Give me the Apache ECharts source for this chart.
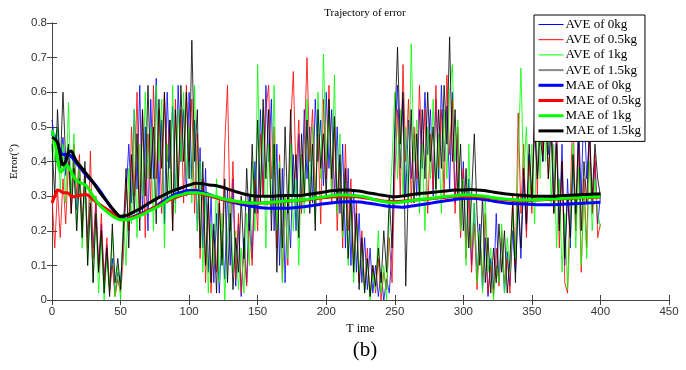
<!DOCTYPE html>
<html><head><meta charset="utf-8">
<script src="https://cdn.jsdelivr.net/npm/echarts@6/dist/echarts.min.js"></script>
<style>html,body{margin:0;padding:0;background:#fff}#c{width:686px;height:370px}</style>
</head><body><div id="c"></div>
<script>
// AVE series: sampled every 2 time units from t=0 to t=400
const aveStep = 2;
const ave0 = [
.52,.46,.50,.40,.47, .36,.44,.30,.41,.26, .38,.22,.33,.18,.30, .15,.28,.10,.22,.06,
.16,.03,.12,.02,.08, .05,.18,.30,.45,.28, .55,.32,.62,.25,.50, .20,.58,.35,.64,.30,
.52,.22,.60,.38,.56, .28,.62,.40,.55,.30, .60,.35,.52,.20,.44, .15,.38,.08,.30,.05,
.25,.02,.20,.06,.32, .10,.35,.04,.22,.01, .18,.05,.30,.12,.40, .25,.55,.30,.62,.40,
.58,.20,.45,.10,.38, .05,.30,.15,.42,.20, .48,.30,.55,.35,.50, .28,.58,.40,.52,.33,
.60,.38,.55,.30,.50, .25,.45,.15,.38,.10, .32,.08,.25,.05,.18, .03,.15,.02,.10,.01,
.08,.00,.06,.02,.15, .45,.62,.38,.58,.30, .52,.35,.48,.30,.55, .38,.60,.42,.55,.30,
.58,.35,.62,.40,.56, .32,.60,.28,.48,.20, .40,.15,.35,.10,.28, .06,.22,.03,.18,.01,
.12,.03,.25,.05,.18, .02,.14,.04,.20,.08, .28,.12,.35,.20,.42, .28,.50,.35,.58,.40,
.62,.42,.55,.30,.50, .22,.45,.10,.35,.15, .40,.20,.52,.30,.58, .35,.48,.25,.40,.22,
.30];
const ave05 = [
.30,.15,.32,.18,.35, .22,.40,.25,.45,.30, .42,.20,.38,.15,.43, .12,.30,.08,.25,.05,
.18,.02,.10,.01,.06, .02,.12,.35,.20,.50, .30,.60,.25,.55,.18, .48,.28,.62,.35,.55,
.25,.60,.40,.52,.20, .58,.32,.55,.28,.62, .40,.58,.25,.48,.12, .35,.05,.28,.02,.20,
.08,.30,.12,.45,.62, .20,.40,.06,.25,.02, .15,.04,.22,.10,.35, .20,.48,.30,.55,.62,
.35,.50,.15,.42,.06, .30,.10,.50,.66,.35, .52,.25,.45,.70,.40, .55,.30,.48,.22,.58,
.35,.62,.28,.50,.20, .40,.15,.45,.20,.35, .10,.28,.05,.20,.03, .15,.01,.10,.02,.12,
.00,.08,.03,.18,.05, .35,.55,.30,.68,.40, .58,.28,.50,.35,.62, .40,.55,.25,.48,.32,
.62,.38,.55,.30,.65, .42,.58,.25,.50,.18, .38,.12,.30,.08,.22, .03,.18,.06,.25,.02,
.10,.01,.15,.04,.20, .05,.12,.02,.30,.10, .54,.25,.45,.18,.40, .25,.55,.30,.65,.42,
.60,.35,.55,.25,.48, .15,.40,.05,.02,.30, .55,.20,.45,.08,.35, .15,.50,.25,.42,.18,
.22];
const ave1 = [
.48,.40,.50,.32,.45, .28,.57,.30,.48,.20, .40,.15,.35,.10,.30, .05,.25,.02,.18,.00,
.12,.03,.20,.01,.10, .00,.25,.10,.38,.22, .55,.18,.45,.30,.60, .35,.50,.20,.62,.40,
.58,.15,.45,.30,.62, .25,.55,.40,.60,.35, .50,.28,.62,.20,.40, .08,.30,.02,.22,.10,
.35,.05,.25,.00,.18, .30,.08,.20,.03,.15, .02,.25,.10,.40,.20, .68,.30,.55,.15,.45,
.25,.62,.20,.40,.05, .30,.12,.45,.20,.35, .10,.42,.25,.58,.30, .50,.22,.60,.35,.71,
.40,.55,.30,.65,.25, .48,.18,.35,.10,.30, .05,.22,.08,.15,.02, .12,.00,.08,.03,.20,
.02,.10,.00,.25,.40, .60,.35,.55,.30,.50, .28,.74,.40,.52,.25, .45,.20,.50,.35,.58,
.30,.48,.25,.55,.35, .60,.68,.40,.52,.20, .35,.10,.45,.15,.28, .05,.20,.02,.30,.08,
.15,.00,.10,.05,.22, .02,.18,.08,.25,.12, .40,.67,.35,.50,.28, .45,.22,.55,.35,.66,
.40,.58,.28,.45,.15, .35,.08,.25,.03,.20, .45,.15,.38,.10,.30, .12,.40,.20,.35,.25,
.21];
const ave15 = [
.45,.30,.55,.38,.60, .40,.45,.25,.38,.20, .35,.18,.40,.10,.28, .05,.25,.08,.20,.02,
.15,.01,.22,.05,.12, .03,.20,.38,.15,.42, .25,.48,.20,.55,.30, .62,.35,.50,.22,.58,
.38,.60,.28,.52,.20, .55,.30,.62,.40,.60, .35,.75,.40,.55,.15, .40,.10,.30,.05,.22,
.02,.28,.10,.35,.05, .25,.03,.18,.08,.30, .12,.38,.20,.45,.25, .52,.28,.58,.35,.55,
.20,.45,.08,.38,.15, .50,.25,.55,.30,.42, .18,.48,.30,.52,.25, .45,.20,.55,.38,.48,
.30,.58,.35,.53,.28, .42,.20,.38,.12,.30, .08,.25,.03,.18,.02, .12,.01,.10,.04,.15,
.05,.20,.08,.30,.15, .50,.73,.45,.60,.04, .35,.55,.28,.48,.30, .55,.35,.60,.40,.50,
.32,.55,.38,.62,.45, .76,.40,.55,.30,.45, .20,.38,.15,.30,.48, .25,.10,.30,.05,.18,
.02,.15,.05,.22,.08, .20,.02,.12,.28,.05, .30,.15,.38,.22,.45, .30,.52,.35,.48,.40,
.58,.35,.50,.25,.45, .20,.40,.12,.30,.18, .42,.25,.48,.20,.40, .28,.50,.30,.45,.35,
.30];

// MAE series (running mean) at these times
const maeTime = [0,2,4,6,8,10,12,14,16,18,20,
25,30,35,40,45,50,
55,60,65,70,75,80,85,90,95,100,
105,110,115,120,125,130,135,140,145,150,
155,160,165,170,175,180,185,190,195,200,
205,210,215,220,225,230,235,240,245,250,
255,260,265,270,275,280,285,290,295,300,
305,310,315,320,325,330,335,340,345,350,
355,360,365,370,375,380,385,390,395,400];
const mae0 = [.48,.47,.45,.43,.42,.42,.42,.415,.405,.395,.385,
.36,.34,.315,.285,.258,.237,
.233,.242,.25,.258,.268,.282,.294,.305,.312,.316,
.316,.31,.304,.296,.29,.284,.279,.275,.271,.268,
.266,.265,.265,.265,.266,.268,.27,.273,.276,.279,
.281,.283,.284,.284,.283,.28,.277,.274,.271,.269,
.268,.27,.273,.276,.279,.282,.285,.288,.291,.293,
.294,.293,.29,.287,.284,.281,.279,.278,.277,.276,
.275,.275,.275,.276,.277,.278,.279,.28,.281,.282];
const mae05 = [.28,.30,.318,.315,.31,.31,.308,.30,.298,.30,.302,
.305,.29,.275,.262,.248,.232,
.233,.24,.248,.258,.268,.278,.288,.296,.303,.308,
.31,.305,.30,.295,.29,.286,.283,.281,.28,.28,
.28,.281,.283,.285,.286,.287,.289,.292,.294,.296,
.298,.299,.30,.299,.297,.294,.29,.287,.285,.284,
.285,.287,.289,.29,.292,.294,.296,.298,.30,.30,
.30,.299,.297,.295,.292,.29,.288,.287,.287,.288,
.289,.29,.291,.292,.293,.294,.295,.296,.297,.297];
const mae1 = [.49,.46,.41,.37,.375,.39,.385,.37,.355,.345,.34,
.33,.30,.272,.255,.24,.232,
.232,.237,.245,.255,.265,.275,.29,.30,.305,.31,
.31,.308,.303,.298,.292,.288,.285,.282,.28,.28,
.28,.282,.284,.286,.287,.288,.29,.293,.296,.299,
.302,.303,.303,.302,.30,.296,.29,.285,.282,.281,
.283,.286,.289,.291,.293,.295,.298,.30,.302,.303,
.303,.302,.30,.297,.294,.292,.29,.289,.289,.289,
.29,.291,.292,.293,.294,.295,.296,.297,.298,.298];
const mae15 = [.47,.465,.455,.42,.39,.40,.425,.43,.415,.40,.39,
.365,.34,.31,.285,.26,.242,
.245,.255,.265,.278,.29,.30,.31,.318,.325,.332,
.337,.336,.332,.33,.325,.318,.312,.306,.302,.30,
.30,.30,.301,.302,.302,.302,.304,.307,.31,.313,
.316,.318,.318,.316,.314,.31,.307,.303,.30,.298,
.30,.303,.306,.308,.31,.312,.314,.316,.318,.318,
.319,.318,.316,.313,.31,.307,.305,.303,.302,.30,
.30,.30,.30,.301,.302,.303,.304,.305,.306,.307];

const xTicks = {min:0, max:450, interval:50};
const yTicks = {min:0, max:0.8, interval:0.1};
const names = ['AVE of 0kg','AVE of 0.5kg','AVE of 1kg','AVE of 1.5kg','MAE of 0kg','MAE of 0.5kg','MAE of 1kg','MAE of 1.5kg'];
const colors = ['#0000ff','#ff0000','#00ff00','#000000'];
const legendColors = ['#0000ff','#ff0000','#00ff00','#888888','#0000ff','#ff0000','#00ff00','#000000'];

const aveData = [ave0, ave05, ave1, ave15];
const maeData = [mae0, mae05, mae1, mae15];

const series = [];
aveData.forEach((arr, k) => {
  series.push({
    name: names[k], type: 'line', symbol: 'none', animation: false,
    data: arr.map((v, i) => [i * aveStep, v]),
    lineStyle: {color: colors[k], width: 0.9, opacity: 0.9}, itemStyle: {color: colors[k]}, z: 2
  });
});
maeData.forEach((arr, k) => {
  series.push({
    name: names[k + 4], type: 'line', symbol: 'none', animation: false,
    data: arr.map((v, i) => [maeTime[i], v]), smooth: 0.3,
    lineStyle: {color: colors[k], width: 3}, itemStyle: {color: colors[k]}, z: 3
  });
});

const axisCol = '#444';
const serif = 'Liberation Serif';
const sans = 'Liberation Sans';

const chart = echarts.init(document.getElementById('c'), null, {renderer: 'canvas'});
chart.setOption({
  animation: false,
  backgroundColor: '#fff',
  title: [
    {text: 'Trajectory of error', left: 360, top: 3, textAlign: 'center',
     textStyle: {fontFamily: serif, fontSize: 11, fontWeight: 'normal', color: '#000'}},
    {text: '(b)', left: 360, top: 335, textAlign: 'center',
     textStyle: {fontFamily: serif, fontSize: 21, fontWeight: 'normal', color: '#000'}}
  ],
  grid: {left: 52, right: 17, top: 23, bottom: 70, containLabel: false},
  legend: {
    data: names.map((n, i) => ({name: n,
      lineStyle: {width: i < 4 ? (i === 3 ? 2 : 1) : 3, color: legendColors[i], opacity: 1}})),
    orient: 'vertical', left: 534, top: 15,
    backgroundColor: '#fff', borderColor: '#000', borderWidth: 1,
    padding: [3, 4, 4, 3], itemWidth: 25, itemHeight: 10, itemGap: 2.2,
    itemStyle: {opacity: 0},
    textStyle: {fontFamily: serif, fontSize: 13, color: '#000', padding: [0,0,0,-3]},
    z: 20
  },
  xAxis: [
    {type: 'value', ...xTicks, position: 'bottom',
     name: 'T ime', nameLocation: 'middle', nameGap: 20,
     nameTextStyle: {fontFamily: serif, fontSize: 12, color: '#000'},
     axisLine: {lineStyle: {color: axisCol}}, axisTick: {inside: true, length: 5, lineStyle: {color: axisCol}},
     axisLabel: {fontFamily: sans, fontSize: 11.5, color: '#333', margin: 6}, splitLine: {show: false}},
    {type: 'value', ...xTicks, position: 'top',
     axisLine: {show: true, lineStyle: {color: axisCol}}, axisTick: {inside: true, length: 5, lineStyle: {color: axisCol}},
     axisLabel: {show: false}, splitLine: {show: false}}
  ],
  yAxis: [
    {type: 'value', ...yTicks, position: 'left',
     name: 'Error(°)', nameLocation: 'middle', nameGap: 32, nameRotate: 90,
     nameTextStyle: {fontFamily: serif, fontSize: 11, color: '#000'},
     axisLine: {show: true, lineStyle: {color: axisCol}}, axisTick: {show: true, inside: true, length: 5, lineStyle: {color: axisCol}},
     axisLabel: {fontFamily: sans, fontSize: 11.5, color: '#333', margin: 5,
       formatter: v => v === 0 ? '0' : (+v.toFixed(1)).toString()},
     splitLine: {show: false}},
    {type: 'value', ...yTicks, position: 'right',
     axisLine: {show: true, lineStyle: {color: axisCol}}, axisTick: {show: true, inside: true, length: 5, lineStyle: {color: axisCol}},
     axisLabel: {show: false}, splitLine: {show: false}}
  ],
  series: series
});
</script></body></html>
